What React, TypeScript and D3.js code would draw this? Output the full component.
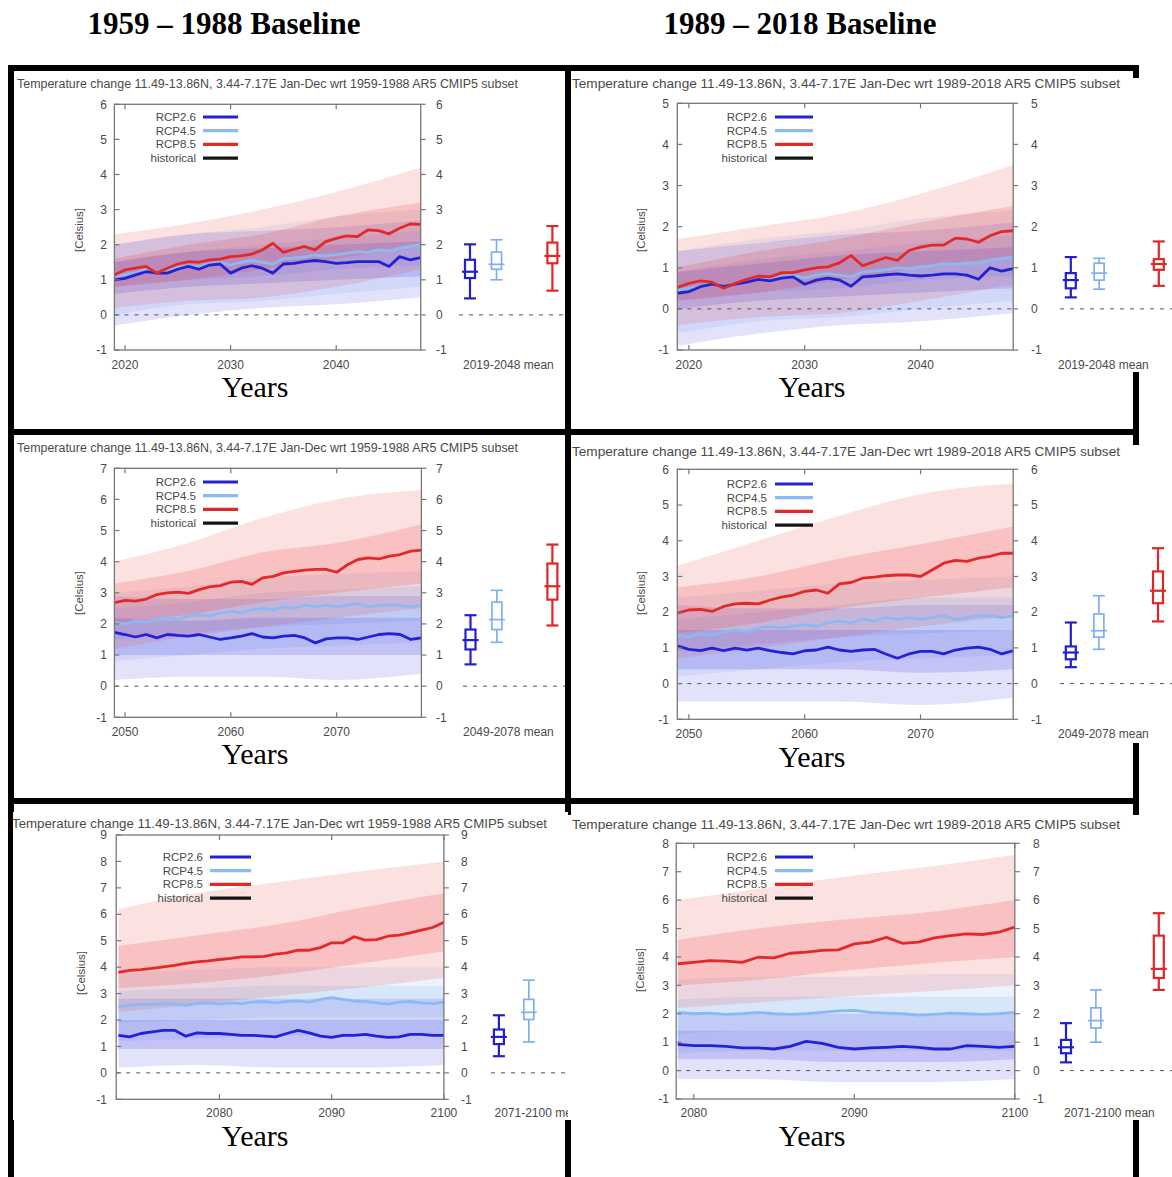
import React from "react";
import * as d3 from "d3";

// ---------- text ----------
const HEADER_LEFT = "1959 – 1988 Baseline";
const HEADER_RIGHT = "1989 – 2018 Baseline";
const X_TITLE = "Years";
const Y_LABEL = "[Celsius]";
const LEGEND_LABELS = ["RCP2.6", "RCP4.5", "RCP8.5", "historical"];
const TITLE_LEFT = "Temperature change 11.49-13.86N, 3.44-7.17E Jan-Dec wrt 1959-1988 AR5 CMIP5 subset";
const TITLE_RIGHT = "Temperature change 11.49-13.86N, 3.44-7.17E Jan-Dec wrt 1989-2018 AR5 CMIP5 subset";
const FORCING = [2.6, 4.5, 8.5];

// ---------- panel 1: 2019-2048 wrt 1959-1988 ----------
const P1_START = 2019;
const P1_RCP26 = [1.0,1.04,1.14,1.23,1.19,1.19,1.3,1.38,1.3,1.42,1.45,1.19,1.33,1.4,1.33,1.19,1.45,1.47,1.52,1.55,1.52,1.47,1.49,1.52,1.52,1.52,1.38,1.66,1.57,1.63];
const P1_RCP45 = [1.1,1.15,1.2,1.3,1.2,1.3,1.35,1.4,1.38,1.45,1.5,1.42,1.5,1.55,1.5,1.45,1.6,1.62,1.65,1.7,1.68,1.72,1.75,1.8,1.78,1.85,1.82,1.9,1.95,2.0];
const P1_RCP85 = [1.14,1.28,1.33,1.38,1.19,1.33,1.45,1.52,1.5,1.57,1.59,1.66,1.68,1.73,1.85,2.04,1.78,1.87,1.95,1.85,2.09,2.18,2.25,2.23,2.42,2.4,2.31,2.47,2.59,2.58];
const P1_BOX26 = [0.47, 1.05, 1.23, 1.57, 2.01];
const P1_BOX45 = [1.0, 1.3, 1.44, 1.79, 2.14];
const P1_BOX85 = [0.69, 1.47, 1.68, 2.06, 2.53];
const P1_BAND_YEARS = [2019, 2026, 2033, 2040, 2048];
const P1_BAND26 = [[-0.3,0.6,1.5,2.0],[0.0,0.8,1.8,2.3],[0.2,0.9,1.9,2.4],[0.3,1.0,2.0,2.5],[0.5,1.1,2.1,2.7]];
const P1_BAND45 = [[0.0,0.8,1.5,2.0],[0.3,1.0,1.8,2.3],[0.4,1.1,2.0,2.5],[0.6,1.3,2.2,2.8],[0.8,1.4,2.4,3.0]];
const P1_BAND85 = [[0.2,0.8,1.6,2.3],[0.4,1.0,2.0,2.6],[0.5,1.3,2.3,3.0],[0.8,1.6,2.8,3.5],[1.3,2.0,3.2,4.2]];

// ---------- panel 2: 2019-2048 wrt 1989-2018 ----------
const P2_START = 2019;
const P2_RCP26 = [0.38,0.42,0.54,0.6,0.55,0.6,0.65,0.72,0.68,0.75,0.78,0.6,0.7,0.75,0.7,0.55,0.78,0.8,0.83,0.85,0.82,0.8,0.82,0.85,0.85,0.82,0.72,1.0,0.92,0.98];
const P2_RCP45 = [0.45,0.5,0.55,0.62,0.55,0.62,0.68,0.72,0.7,0.78,0.82,0.75,0.82,0.86,0.82,0.78,0.9,0.92,0.95,1.0,0.98,1.02,1.05,1.1,1.08,1.12,1.1,1.18,1.22,1.25];
const P2_RCP85 = [0.52,0.62,0.68,0.65,0.5,0.62,0.72,0.8,0.78,0.88,0.88,0.95,1.0,1.02,1.12,1.3,1.05,1.15,1.25,1.18,1.42,1.5,1.55,1.55,1.72,1.7,1.62,1.78,1.88,1.9];
const P2_BOX26 = [0.28, 0.5, 0.7, 0.87, 1.26];
const P2_BOX45 = [0.48, 0.7, 0.87, 1.11, 1.23];
const P2_BOX85 = [0.56, 0.95, 1.09, 1.21, 1.64];
const P2_BAND_YEARS = [2019, 2026, 2033, 2040, 2048];
const P2_BAND26 = [[-0.9,0.0,0.9,1.4],[-0.6,0.2,1.1,1.6],[-0.4,0.3,1.3,1.8],[-0.3,0.4,1.4,1.9],[-0.1,0.5,1.5,2.1]];
const P2_BAND45 = [[-0.6,0.2,0.9,1.4],[-0.3,0.4,1.2,1.7],[-0.2,0.5,1.4,1.9],[0.0,0.7,1.6,2.2],[0.2,0.8,1.8,2.4]];
const P2_BAND85 = [[-0.4,0.2,1.0,1.7],[-0.2,0.4,1.4,2.0],[-0.1,0.7,1.7,2.3],[0.2,1.0,2.1,2.8],[0.6,1.3,2.5,3.5]];

// ---------- panel 3: 2049-2078 wrt 1959-1988 ----------
const P3_START = 2049;
const P3_RCP26 = [1.73,1.66,1.58,1.66,1.55,1.66,1.63,1.61,1.66,1.58,1.5,1.55,1.61,1.69,1.58,1.55,1.61,1.63,1.55,1.39,1.52,1.55,1.55,1.5,1.58,1.66,1.69,1.66,1.5,1.55];
const P3_RCP45 = [2.05,2.0,2.1,2.05,2.15,2.2,2.15,2.25,2.3,2.25,2.35,2.4,2.35,2.45,2.5,2.45,2.55,2.5,2.6,2.55,2.6,2.55,2.6,2.65,2.55,2.6,2.6,2.6,2.55,2.6];
const P3_RCP85 = [2.68,2.76,2.73,2.8,2.94,3.0,3.02,2.98,3.1,3.19,3.23,3.34,3.37,3.27,3.48,3.53,3.64,3.69,3.73,3.75,3.75,3.66,3.9,4.07,4.12,4.09,4.18,4.23,4.34,4.37];
const P3_BOX26 = [0.7, 1.18, 1.48, 1.82, 2.28];
const P3_BOX45 = [1.41, 1.82, 2.14, 2.7, 3.08];
const P3_BOX85 = [1.95, 2.78, 3.21, 3.94, 4.55];
const P3_BAND_YEARS = [2049, 2056, 2063, 2070, 2078];
const P3_BAND26 = [[0.2,1.0,2.2,2.9],[0.3,1.0,2.1,2.8],[0.3,1.0,2.2,2.8],[0.2,1.0,2.2,2.9],[0.4,1.0,2.2,2.9]];
const P3_BAND45 = [[0.8,1.5,2.5,3.0],[1.0,1.7,2.7,3.2],[1.2,1.9,3.0,3.5],[1.3,2.0,3.1,3.6],[1.4,2.1,3.2,3.7]];
const P3_BAND85 = [[1.2,2.0,3.3,4.0],[1.6,2.3,3.7,4.6],[1.9,2.7,4.3,5.4],[2.2,3.0,4.6,6.0],[2.5,3.3,5.2,6.3]];

// ---------- panel 4: 2049-2078 wrt 1989-2018 ----------
const P4_START = 2049;
const P4_RCP26 = [1.06,0.96,0.92,0.99,0.92,0.99,0.94,0.99,0.92,0.87,0.83,0.92,0.94,1.02,0.94,0.9,0.94,0.96,0.83,0.71,0.83,0.9,0.9,0.83,0.94,0.99,1.02,0.96,0.83,0.92];
const P4_RCP45 = [1.35,1.3,1.4,1.35,1.45,1.5,1.45,1.55,1.6,1.55,1.6,1.65,1.6,1.7,1.75,1.7,1.8,1.75,1.85,1.8,1.85,1.8,1.85,1.9,1.8,1.85,1.9,1.9,1.85,1.9];
const P4_RCP85 = [1.97,2.06,2.08,2.02,2.16,2.23,2.25,2.23,2.34,2.42,2.48,2.58,2.62,2.53,2.79,2.83,2.95,2.98,3.02,3.04,3.04,3.0,3.18,3.37,3.45,3.42,3.51,3.56,3.65,3.65];
const P4_BOX26 = [0.46, 0.68, 0.87, 1.04, 1.71];
const P4_BOX45 = [0.96, 1.3, 1.48, 1.95, 2.46];
const P4_BOX85 = [1.74, 2.25, 2.6, 3.14, 3.79];
const P4_BAND_YEARS = [2049, 2056, 2063, 2070, 2078];
const P4_BAND26 = [[-0.5,0.4,1.5,2.2],[-0.5,0.4,1.5,2.1],[-0.5,0.4,1.5,2.1],[-0.6,0.3,1.5,2.2],[-0.4,0.4,1.5,2.2]];
const P4_BAND45 = [[0.2,0.9,1.8,2.4],[0.4,1.1,2.0,2.6],[0.6,1.3,2.2,2.8],[0.7,1.4,2.4,2.9],[0.8,1.5,2.4,3.0]];
const P4_BAND85 = [[0.7,1.4,2.7,3.3],[1.0,1.7,3.0,4.0],[1.3,2.1,3.5,4.7],[1.6,2.4,3.9,5.3],[1.9,2.7,4.4,5.6]];

// ---------- panel 5: 2071-2100 wrt 1959-1988 ----------
const P5_START = 2071;
const P5_RCP26 = [1.42,1.36,1.49,1.55,1.61,1.61,1.39,1.51,1.49,1.49,1.46,1.42,1.42,1.39,1.36,1.49,1.61,1.51,1.39,1.34,1.42,1.42,1.46,1.39,1.34,1.36,1.46,1.46,1.42,1.42];
const P5_RCP45 = [2.5,2.55,2.6,2.58,2.62,2.6,2.55,2.62,2.65,2.6,2.65,2.62,2.68,2.7,2.65,2.7,2.72,2.68,2.78,2.85,2.78,2.72,2.7,2.65,2.6,2.68,2.7,2.65,2.62,2.68];
const P5_RCP85 = [3.8,3.88,3.91,3.95,4.01,4.07,4.14,4.2,4.24,4.29,4.33,4.39,4.39,4.41,4.49,4.54,4.64,4.64,4.74,4.92,4.92,5.15,5.02,5.04,5.17,5.21,5.3,5.4,5.5,5.7];
const P5_BOX26 = [0.63, 1.09, 1.36, 1.64, 2.18];
const P5_BOX45 = [1.17, 2.02, 2.29, 2.78, 3.51];
const P5_BOX85 = null;
const P5_BAND_YEARS = [2071, 2078, 2085, 2092, 2100];
const P5_BAND26 = [[0.2,0.9,2.0,2.8],[0.3,0.9,2.0,2.8],[0.2,0.9,2.0,2.8],[0.2,0.9,2.0,2.8],[0.3,0.9,2.0,2.8]];
const P5_BAND45 = [[1.2,1.9,3.1,3.8],[1.3,2.0,3.2,3.9],[1.4,2.1,3.3,4.0],[1.4,2.1,3.3,4.0],[1.4,2.1,3.3,4.0]];
const P5_BAND85 = [[2.3,3.2,4.8,6.2],[2.6,3.4,5.2,6.8],[2.9,3.7,5.6,7.2],[3.2,4.1,6.2,7.6],[3.6,4.6,6.8,8.0]];

// ---------- panel 6: 2071-2100 wrt 1989-2018 (axis from 2079) ----------
const P6_START = 2079;
const P6_RCP26 = [0.92,0.88,0.88,0.85,0.8,0.8,0.76,0.85,1.03,0.96,0.82,0.76,0.8,0.82,0.85,0.82,0.76,0.76,0.88,0.85,0.82,0.85];
const P6_RCP45 = [2.05,2.0,2.02,1.98,2.0,2.05,2.0,1.98,2.0,2.05,2.1,2.12,2.05,2.02,2.0,1.95,1.98,2.02,2.0,1.98,2.0,2.05];
const P6_RCP85 = [3.76,3.81,3.87,3.85,3.81,3.99,3.97,4.13,4.17,4.23,4.25,4.46,4.52,4.69,4.48,4.52,4.67,4.75,4.81,4.79,4.87,5.05];
const P6_BOX26 = [0.29, 0.61, 0.82, 1.08, 1.67];
const P6_BOX45 = [1.0, 1.5, 1.76, 2.21, 2.84];
const P6_BOX85 = [2.84, 3.26, 3.58, 4.75, 5.54];
const P6_BAND_YEARS = [2079, 2084, 2089, 2095, 2100];
const P6_BAND26 = [[-0.3,0.4,1.4,2.0],[-0.3,0.4,1.4,2.0],[-0.4,0.3,1.4,2.0],[-0.4,0.3,1.4,2.0],[-0.3,0.4,1.4,2.0]];
const P6_BAND45 = [[0.6,1.3,2.5,3.2],[0.7,1.4,2.6,3.3],[0.7,1.4,2.6,3.3],[0.7,1.4,2.6,3.4],[0.7,1.4,2.6,3.4]];
const P6_BAND85 = [[2.2,3.0,4.6,6.0],[2.4,3.2,5.0,6.4],[2.6,3.5,5.3,6.8],[2.8,3.8,5.6,7.2],[3.0,4.0,6.0,7.6]];

// ---------- styles ----------
const LINE_COLORS = ["#2222d4", "#8db9f3", "#e32828", "#151515"];
const BAND_COLORS = ["#3a3ae2", "#7eaef0", "#ee3434"];
const BOX_COLORS = ["#2020cc", "#7fb0ee", "#e02626"];
const TXT = "#4a4a4a";
const SANS = "'Liberation Sans', Arial, Helvetica, sans-serif";
const SERIF = "'Liberation Serif', 'Times New Roman', serif";

const PANELS = [
  { id: "p1", start: P1_START, series: [P1_RCP26, P1_RCP45, P1_RCP85], boxes: [P1_BOX26, P1_BOX45, P1_BOX85], bandYears: P1_BAND_YEARS, bands: [P1_BAND26, P1_BAND45, P1_BAND85], title: TITLE_LEFT, mean: "2019-2048 mean", xTicks: [2020, 2030, 2040],
    L: { clip: [14, 71, 565, 429], x0: 114.4, x1: 420.7, y0: 104.3, y1: 350, xDom: [2019, 2048], yDom: [-1, 6], box: [470, 552.4], zero0: 459, title: [17, 88, 501], xLabY: 368.5, meanX: 463, leg: [196, 203, 238, 117], yLab: [79, 230], lab: [107, 436] } },
  { id: "p2", start: P2_START, series: [P2_RCP26, P2_RCP45, P2_RCP85], boxes: [P2_BOX26, P2_BOX45, P2_BOX85], bandYears: P2_BAND_YEARS, bands: [P2_BAND26, P2_BAND45, P2_BAND85], title: TITLE_RIGHT, mean: "2019-2048 mean", xTicks: [2020, 2030, 2040],
    L: { clip: [571, 78, 1172, 372], x0: 677.3, x1: 1013.2, y0: 103.3, y1: 350, xDom: [2019, 2048], yDom: [-1, 5], box: [1070.8, 1158.8], zero0: 1060, title: [572, 88, 548], xLabY: 368.5, meanX: 1058, leg: [767, 775, 813, 117], yLab: [641, 230], lab: [669, 1031] } },
  { id: "p3", start: P3_START, series: [P3_RCP26, P3_RCP45, P3_RCP85], boxes: [P3_BOX26, P3_BOX45, P3_BOX85], bandYears: P3_BAND_YEARS, bands: [P3_BAND26, P3_BAND45, P3_BAND85], title: TITLE_LEFT, mean: "2049-2078 mean", xTicks: [2050, 2060, 2070],
    L: { clip: [14, 435, 565, 798], x0: 114.4, x1: 421.4, y0: 468.3, y1: 717.3, xDom: [2049, 2078], yDom: [-1, 7], box: [470.5, 552.4], zero0: 463, title: [17, 452, 501], xLabY: 736, meanX: 463, leg: [196, 203, 238, 482], yLab: [79, 593], lab: [107, 436] } },
  { id: "p4", start: P4_START, series: [P4_RCP26, P4_RCP45, P4_RCP85], boxes: [P4_BOX26, P4_BOX45, P4_BOX85], bandYears: P4_BAND_YEARS, bands: [P4_BAND26, P4_BAND45, P4_BAND85], title: TITLE_RIGHT, mean: "2049-2078 mean", xTicks: [2050, 2060, 2070],
    L: { clip: [571, 445, 1172, 743], x0: 677.3, x1: 1013.2, y0: 469.3, y1: 719.3, xDom: [2049, 2078], yDom: [-1, 6], box: [1070.8, 1158], zero0: 1060, title: [572, 456, 548], xLabY: 738, meanX: 1058, leg: [767, 775, 813, 484], yLab: [641, 593], lab: [669, 1031] } },
  { id: "p5", start: P5_START, series: [P5_RCP26, P5_RCP45, P5_RCP85], boxes: [P5_BOX26, P5_BOX45, P5_BOX85], bandYears: P5_BAND_YEARS, bands: [P5_BAND26, P5_BAND45, P5_BAND85], title: TITLE_LEFT, mean: "2071-2100 mean", xTicks: [2080, 2090, 2100],
    L: { clip: [13, 812, 568, 1120], x0: 116.2, x1: 443.9, y0: 835, y1: 1099.3, xDom: [2070.8, 2100], yDom: [-1, 9], box: [498.9, 591.8], zero0: 491, title: [12, 827.5, 535], xLabY: 1117, meanX: 494.5, leg: [203, 210, 251, 857], yLab: [81, 973], lab: [107, 461] } },
  { id: "p6", start: P6_START, series: [P6_RCP26, P6_RCP45, P6_RCP85], boxes: [P6_BOX26, P6_BOX45, P6_BOX85], bandYears: P6_BAND_YEARS, bands: [P6_BAND26, P6_BAND45, P6_BAND85], title: TITLE_RIGHT, mean: "2071-2100 mean", xTicks: [2080, 2090, 2100],
    L: { clip: [568, 815, 1172, 1120], x0: 676.2, x1: 1014.8, y0: 843.3, y1: 1099, xDom: [2078.9, 2100], yDom: [-1, 8], box: [1066, 1158.8], zero0: 1060, title: [572, 829, 548], xLabY: 1117, meanX: 1064, leg: [767, 775, 813, 857], yLab: [640, 970], lab: [669, 1033] } },
];

function Panel({ p }: { p: any }) {
  const L = p.L;
  const x = d3.scaleLinear().domain(L.xDom).range([L.x0, L.x1]);
  const y = d3.scaleLinear().domain(L.yDom).range([L.y1, L.y0]);
  const bx = d3.scaleLinear().domain([FORCING[0], FORCING[2]]).range(L.box);
  const yTicks = d3.range(L.yDom[0], L.yDom[1] + 1);
  const line = d3.line<number>().x((_, i) => x(p.start + i)).y((d) => y(d));
  const outer = d3.area<number[]>().x((_, i) => x(p.bandYears[i])).y0((d) => y(d[0])).y1((d) => y(d[3])).curve(d3.curveMonotoneX);
  const inner = d3.area<number[]>().x((_, i) => x(p.bandYears[i])).y0((d) => y(d[1])).y1((d) => y(d[2])).curve(d3.curveMonotoneX);
  const [cx0, cy0, cx1, cy1] = L.clip;
  const drawOrder = [1, 0, 2];
  return (
    <g>
      <defs>
        <clipPath id={`img-${p.id}`}><rect x={cx0} y={cy0} width={cx1 - cx0} height={cy1 - cy0} /></clipPath>
        <clipPath id={`plot-${p.id}`}><rect x={L.x0} y={L.y0} width={L.x1 - L.x0} height={L.y1 - L.y0} /></clipPath>
      </defs>
      <rect x={cx0} y={cy0} width={cx1 - cx0} height={cy1 - cy0} fill="#fff" />
      <g clipPath={`url(#img-${p.id})`} fontFamily={SANS} fill={TXT}>
        <text x={L.title[0]} y={L.title[1]} fontSize={12} textLength={L.title[2]} lengthAdjust="spacingAndGlyphs">{p.title}</text>
        {/* spaghetti envelopes */}
        <g clipPath={`url(#plot-${p.id})`}>
          {drawOrder.map((k) => (
            <g key={k} fill={BAND_COLORS[k]} stroke="none">
              <path d={outer(p.bands[k]) || ""} opacity={0.15} />
              <path d={inner(p.bands[k]) || ""} opacity={0.18} />
            </g>
          ))}
          <line x1={L.x0} x2={L.x1} y1={y(0)} y2={y(0)} stroke="#555" strokeWidth={1} strokeDasharray="4,6" />
          {drawOrder.map((k) => (
            <path key={k} d={line(p.series[k]) || ""} fill="none" stroke={LINE_COLORS[k]} strokeWidth={2.8} strokeLinejoin="round" />
          ))}
        </g>
        {/* frame */}
        <rect x={L.x0} y={L.y0} width={L.x1 - L.x0} height={L.y1 - L.y0} fill="none" stroke="#777" strokeWidth={1.3} />
        {yTicks.map((t) => (
          <g key={t}>
            <line x1={L.x0} x2={L.x0 + 5} y1={y(t)} y2={y(t)} stroke="#777" strokeWidth={1.2} />
            <line x1={L.x1} x2={L.x1 + 5} y1={y(t)} y2={y(t)} stroke="#777" strokeWidth={1.2} />
            <text x={L.lab[0]} y={y(t)} dy="0.35em" textAnchor="end" fontSize={12}>{t}</text>
            <text x={L.lab[1]} y={y(t)} dy="0.35em" textAnchor="start" fontSize={12}>{t}</text>
          </g>
        ))}
        {p.xTicks.map((t: number) => (
          <g key={t}>
            <line x1={x(t)} x2={x(t)} y1={L.y0} y2={L.y0 + 5} stroke="#777" strokeWidth={1.2} />
            <line x1={x(t)} x2={x(t)} y1={L.y1} y2={L.y1 - 5} stroke="#777" strokeWidth={1.2} />
            <text x={x(t)} y={L.xLabY} textAnchor="middle" fontSize={12}>{t}</text>
          </g>
        ))}
        <text transform={`translate(${L.yLab[0]},${L.yLab[1]}) rotate(-90)`} textAnchor="middle" dy="0.35em" fontSize={11.5}>{Y_LABEL}</text>
        {/* legend */}
        {LEGEND_LABELS.map((lab, i) => (
          <g key={lab}>
            <text x={L.leg[0]} y={L.leg[3] + i * 13.7} dy="0.35em" textAnchor="end" fontSize={11.5}>{lab}</text>
            <line x1={L.leg[1]} x2={L.leg[2]} y1={L.leg[3] + i * 13.7} y2={L.leg[3] + i * 13.7} stroke={LINE_COLORS[i]} strokeWidth={3.2} />
          </g>
        ))}
        {/* box plots of period means */}
        <line x1={L.zero0} x2={cx1} y1={y(0)} y2={y(0)} stroke="#555" strokeWidth={1} strokeDasharray="4,6" />
        {p.boxes.map((b: number[] | null, k: number) => {
          if (!b) return null;
          const c = bx(FORCING[k]);
          const sw = k === 1 ? 1.7 : 2.2;
          return (
            <g key={k} stroke={BOX_COLORS[k]} strokeWidth={sw} fill="none">
              <line x1={c} x2={c} y1={y(b[0])} y2={y(b[4])} />
              <line x1={c - 6} x2={c + 6} y1={y(b[0])} y2={y(b[0])} />
              <line x1={c - 6} x2={c + 6} y1={y(b[4])} y2={y(b[4])} />
              <rect x={c - 5} y={y(b[3])} width={10} height={y(b[1]) - y(b[3])} fill="#fff" />
              <line x1={c - 8} x2={c + 8} y1={y(b[2])} y2={y(b[2])} />
            </g>
          );
        })}
        <text x={L.meanX} y={L.xLabY} textAnchor="start" fontSize={12}>{p.mean}</text>
      </g>
    </g>
  );
}

const BORDER_H = [65, 429, 798];
const BORDER_V = [8, 565, 1133];
const YEARS_POS = [[255, 397], [812, 397], [255, 764], [812, 767], [255, 1146], [812, 1146]];

export default function App() {
  return (
    <svg width={1172} height={1177} viewBox="0 0 1172 1177" style={{ position: "absolute", left: 0, top: 0, background: "#fff" }}>
      <rect x={0} y={0} width={1172} height={1177} fill="#fff" />
      <text x={224} y={34} textAnchor="middle" fontFamily={SERIF} fontWeight="bold" fontSize={31}>{HEADER_LEFT}</text>
      <text x={800} y={34} textAnchor="middle" fontFamily={SERIF} fontWeight="bold" fontSize={31}>{HEADER_RIGHT}</text>
      {BORDER_H.map((yy) => <rect key={`h${yy}`} x={8} y={yy} width={1131} height={6} fill="#000" />)}
      {BORDER_V.map((xx) => <rect key={`v${xx}`} x={xx} y={65} width={6} height={1112} fill="#000" />)}
      {PANELS.map((p) => <Panel key={p.id} p={p} />)}
      {YEARS_POS.map(([xx, yy], i) => (
        <text key={i} x={xx} y={yy} textAnchor="middle" fontFamily={SERIF} fontSize={30}>{X_TITLE}</text>
      ))}
    </svg>
  );
}
